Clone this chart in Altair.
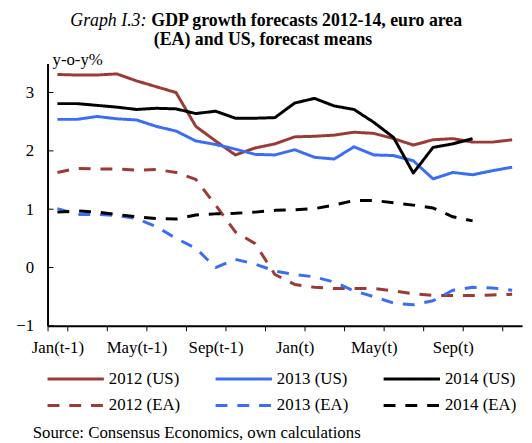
import altair as alt
import pandas as pd

months = ["Jan(t-1)", "Feb(t-1)", "Mar(t-1)", "Apr(t-1)", "May(t-1)", "Jun(t-1)",
          "Jul(t-1)", "Aug(t-1)", "Sep(t-1)", "Oct(t-1)", "Nov(t-1)", "Dec(t-1)",
          "Jan(t)", "Feb(t)", "Mar(t)", "Apr(t)", "May(t)", "Jun(t)",
          "Jul(t)", "Aug(t)", "Sep(t)", "Oct(t)", "Nov(t)", "Dec(t)"]
shown_labels = ["Jan(t-1)", "May(t-1)", "Sep(t-1)", "Jan(t)", "May(t)", "Sep(t)"]

series_names = ["2012 (US)", "2013 (US)", "2014 (US)", "2012 (EA)", "2013 (EA)", "2014 (EA)"]

us_2012 = [3.31, 3.30, 3.30, 3.32, 3.20, 3.10, 3.00, 2.42, 2.17, 1.93, 2.05, 2.12,
           2.24, 2.25, 2.27, 2.32, 2.30, 2.21, 2.10, 2.19, 2.21, 2.15, 2.15, 2.19]
us_2013 = [2.54, 2.54, 2.59, 2.55, 2.53, 2.42, 2.34, 2.17, 2.11, 2.03, 1.94, 1.93,
           2.02, 1.89, 1.86, 2.07, 1.93, 1.92, 1.83, 1.52, 1.63, 1.59, 1.66, 1.72]
us_2014 = [2.81, 2.81, 2.78, 2.75, 2.71, 2.73, 2.72, 2.64, 2.68, 2.56, 2.56, 2.57,
           2.82, 2.90, 2.77, 2.71, 2.49, 2.23, 1.62, 2.06, 2.12, 2.21]
ea_2012 = [1.63, 1.70, 1.69, 1.69, 1.67, 1.68, 1.63, 1.51, 1.07, 0.61, 0.41, -0.12,
           -0.29, -0.34, -0.36, -0.36, -0.36, -0.40, -0.45, -0.48, -0.48, -0.48, -0.47, -0.46]
ea_2013 = [1.01, 0.91, 0.91, 0.89, 0.84, 0.70, 0.50, 0.33, 0.00, 0.14, 0.06, -0.06,
           -0.12, -0.16, -0.25, -0.40, -0.50, -0.61, -0.64, -0.57, -0.39, -0.34, -0.35, -0.39]
ea_2014 = [0.95, 0.97, 0.95, 0.91, 0.87, 0.84, 0.83, 0.90, 0.92, 0.93, 0.95, 0.98,
           0.99, 1.01, 1.07, 1.15, 1.15, 1.11, 1.07, 1.02, 0.87, 0.80]

colors = ["#9B3A36", "#3A6EF5", "#000000", "#9B3A36", "#3A6EF5", "#000000"]
dashes = [[1, 0], [1, 0], [1, 0], [12, 10], [12, 10], [12, 10]]

y_ticks = [-1, 0, 1, 2, 3]

rows = []
for name, vals in zip(series_names, [us_2012, us_2013, us_2014, ea_2012, ea_2013, ea_2014]):
    for i, v in enumerate(vals):
        rows.append({"series": name, "month": months[i], "idx": i, "value": v})
df = pd.DataFrame(rows)

FONT = "Liberation Serif"
x_scale = alt.Scale(domain=months, paddingInner=0, paddingOuter=0)
y_scale = alt.Scale(domain=[-1, 3.5], nice=False, zero=False)

label_test = "indexof([" + ",".join("'" + s + "'" for s in shown_labels) + "], datum.value) >= 0 ? datum.value : ''"

lines = alt.Chart(df).mark_line(strokeWidth=3, strokeJoin="round").encode(
    x=alt.X("month:N", sort=months, scale=x_scale,
            axis=alt.Axis(values=months[::2], tickBand="extent", labelExpr=label_test,
                          tickSize=5, tickColor="black", tickWidth=1,
                          domainColor="black", domainWidth=2,
                          labelFont=FONT, labelFontSize=17, labelColor="black",
                          labelPadding=9, labelAngle=0, labelOverlap=False,
                          title=None, grid=False)),
    y=alt.Y("value:Q", scale=y_scale,
            axis=alt.Axis(values=y_ticks, tickSize=0, domainColor="black", domainWidth=2,
                          labelFont=FONT, labelFontSize=17, labelColor="black",
                          labelPadding=14, format="d", title=None, grid=False)),
    color=alt.Color("series:N", scale=alt.Scale(domain=series_names, range=colors), title=None),
    strokeDash=alt.StrokeDash("series:N", scale=alt.Scale(domain=series_names, range=dashes), title=None),
    order=alt.Order("idx:Q"),
)

ytick_rules = alt.Chart(pd.DataFrame({"v": y_ticks})).mark_rule(color="black", strokeWidth=1).encode(
    y=alt.Y("v:Q", scale=y_scale),
    x=alt.value(0),
    x2=alt.value(6),
)

def text_layer(txt, x, y, align="left", weight="normal", style="normal", size=17, baseline="alphabetic"):
    return alt.Chart(pd.DataFrame({"t": [txt]})).mark_text(
        font=FONT, fontSize=size, fontWeight=weight, fontStyle=style,
        align=align, baseline=baseline, color="black"
    ).encode(x=alt.value(x), y=alt.value(y), text="t:N")

title_a = text_layer("Graph I.3:", 100, -37.5, align="right", style="italic", size=18)
title_b = text_layer("GDP growth forecasts 2012-14, euro area", 105, -37.5, weight="bold", size=18)
title_c = text_layer("(EA) and US, forecast means", 218, -18.5, align="center", weight="bold", size=18)
ylab = text_layer("y-o-y%", 5, 1.5, size=17)
source = text_layer("Source: Consensus Economics, own calculations", -15, 379)

chart = alt.layer(lines, ytick_rules, title_a, title_b, title_c, ylab, source).properties(
    width=480, height=265.5,
    autosize=alt.AutoSizeParams(type="none"),
    padding={"left": 40, "top": 53.5, "right": 2, "bottom": 116},
).configure_view(stroke=None).configure_legend(
    orient="none", legendX=0, legendY=310.5, columns=3, direction="horizontal",
    symbolType="M-5,0H5", symbolSize=130, symbolStrokeWidth=3, symbolOffset=20,
    labelFont=FONT, labelFontSize=17, labelColor="black", labelOffset=25,
    columnPadding=28, rowPadding=9, padding=0, labelLimit=300,
)

chart.save("out.html", embed_options={"renderer": "svg", "actions": False})
